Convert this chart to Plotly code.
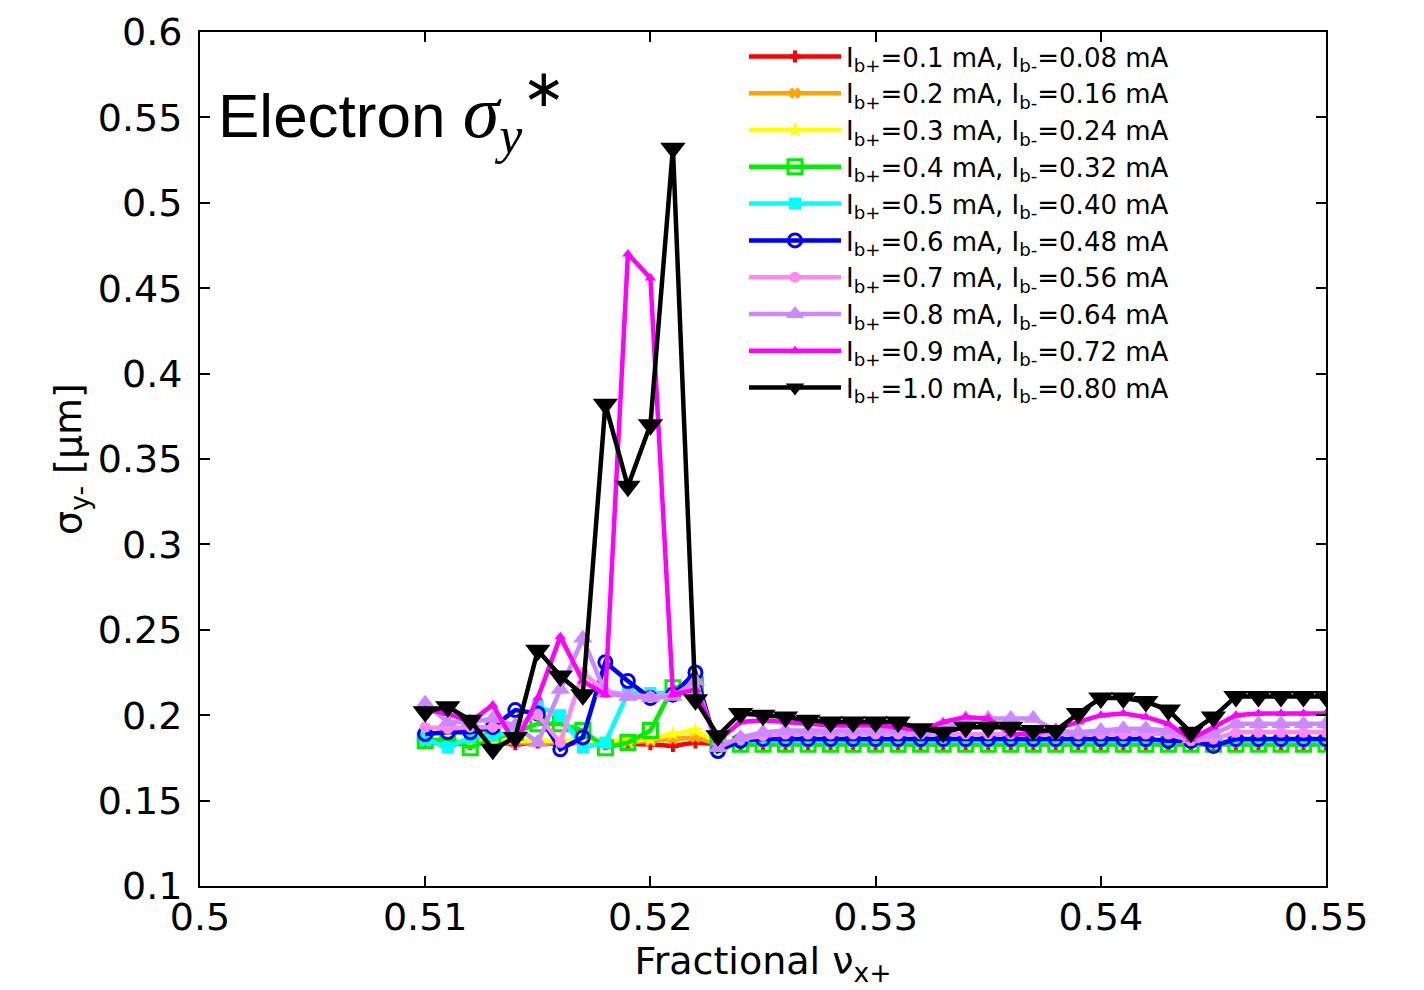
import plotly.graph_objects as go

# ---------------- data ----------------
nu_x = [0.510, 0.511, 0.512, 0.513, 0.514, 0.515, 0.516, 0.517, 0.518, 0.519,
        0.520, 0.521, 0.522, 0.523, 0.524, 0.525, 0.526, 0.527, 0.528, 0.529,
        0.530, 0.531, 0.532, 0.533, 0.534, 0.535, 0.536, 0.537, 0.538, 0.539,
        0.540, 0.541, 0.542, 0.543, 0.544, 0.545, 0.546, 0.547, 0.548, 0.549,
        0.550]

s_01 = [0.184, 0.184, 0.183, 0.184, 0.183, 0.184, 0.183, 0.184, 0.183, 0.183,
        0.183, 0.182, 0.184, 0.183, 0.183, 0.183, 0.183, 0.183, 0.183, 0.183,
        0.183, 0.183, 0.183, 0.183, 0.183, 0.183, 0.183, 0.183, 0.183, 0.183,
        0.183, 0.183, 0.183, 0.183, 0.183, 0.183, 0.183, 0.183, 0.183, 0.183,
        0.183]
s_02 = [0.184, 0.184, 0.184, 0.184, 0.184, 0.184, 0.184, 0.184, 0.184, 0.184,
        0.185, 0.186, 0.187, 0.183, 0.1835, 0.1835, 0.1835, 0.1835, 0.1835, 0.1835,
        0.1835, 0.1835, 0.1835, 0.1835, 0.1835, 0.1835, 0.1835, 0.1835, 0.1835, 0.1835,
        0.1835, 0.1835, 0.1835, 0.1835, 0.1835, 0.1835, 0.1835, 0.1835, 0.1835, 0.1835,
        0.1835]
s_03 = [0.185, 0.185, 0.185, 0.185, 0.185, 0.185, 0.185, 0.185, 0.185, 0.185,
        0.186, 0.189, 0.191, 0.184, 0.184, 0.184, 0.184, 0.184, 0.184, 0.184,
        0.184, 0.184, 0.184, 0.184, 0.184, 0.184, 0.184, 0.184, 0.184, 0.184,
        0.184, 0.184, 0.184, 0.184, 0.184, 0.184, 0.184, 0.184, 0.184, 0.184,
        0.184]
s_04 = [0.185, 0.186, 0.181, 0.186, 0.190, 0.195, 0.195, 0.191, 0.181, 0.184,
        0.191, 0.216, 0.218, 0.183, 0.183, 0.183, 0.183, 0.183, 0.183, 0.183,
        0.183, 0.183, 0.183, 0.183, 0.183, 0.183, 0.183, 0.183, 0.183, 0.183,
        0.183, 0.183, 0.183, 0.183, 0.183, 0.183, 0.183, 0.183, 0.183, 0.183,
        0.183]
s_05 = [0.186, 0.181, 0.187, 0.188, 0.190, 0.205, 0.200, 0.181, 0.184, 0.213,
        0.213, 0.213, 0.218, 0.183, 0.185, 0.185, 0.185, 0.185, 0.185, 0.185,
        0.185, 0.185, 0.185, 0.185, 0.185, 0.185, 0.185, 0.185, 0.185, 0.185,
        0.185, 0.185, 0.185, 0.185, 0.185, 0.184, 0.185, 0.185, 0.185, 0.185,
        0.185]
s_06 = [0.189, 0.190, 0.190, 0.193, 0.203, 0.201, 0.180, 0.187, 0.231, 0.220,
        0.210, 0.212, 0.225, 0.179, 0.185, 0.186, 0.186, 0.186, 0.186, 0.186,
        0.186, 0.186, 0.186, 0.186, 0.186, 0.186, 0.186, 0.186, 0.186, 0.186,
        0.186, 0.186, 0.186, 0.185, 0.185, 0.182, 0.186, 0.186, 0.186, 0.186,
        0.186]
s_07 = [0.193, 0.192, 0.193, 0.193, 0.194, 0.200, 0.184, 0.225, 0.214, 0.212,
        0.211, 0.212, 0.215, 0.183, 0.186, 0.188, 0.189, 0.189, 0.189, 0.189,
        0.189, 0.189, 0.189, 0.189, 0.189, 0.189, 0.189, 0.189, 0.189, 0.189,
        0.189, 0.189, 0.189, 0.189, 0.185, 0.186, 0.190, 0.190, 0.190, 0.190,
        0.190]
s_08 = [0.207, 0.196, 0.196, 0.198, 0.194, 0.184, 0.215, 0.245, 0.213, 0.211,
        0.210, 0.211, 0.220, 0.181, 0.187, 0.190, 0.191, 0.191, 0.191, 0.191,
        0.191, 0.191, 0.190, 0.191, 0.198, 0.198, 0.198, 0.198, 0.191, 0.190,
        0.191, 0.192, 0.192, 0.191, 0.186, 0.189, 0.195, 0.195, 0.195, 0.195,
        0.195]
s_09 = [0.203, 0.201, 0.196, 0.206, 0.183, 0.210, 0.246, 0.220, 0.212, 0.470,
        0.456, 0.212, 0.215, 0.185, 0.196, 0.197, 0.196, 0.195, 0.194, 0.194,
        0.194, 0.193, 0.191, 0.196, 0.199, 0.198, 0.189, 0.189, 0.192, 0.196,
        0.200, 0.201, 0.199, 0.195, 0.186, 0.193, 0.200, 0.201, 0.201, 0.201,
        0.201]
s_10 = [0.202, 0.205, 0.197, 0.180, 0.187, 0.238, 0.223, 0.212, 0.382, 0.334,
        0.370, 0.532, 0.209, 0.188, 0.201, 0.200, 0.199, 0.197, 0.196, 0.196,
        0.196, 0.196, 0.192, 0.190, 0.193, 0.193, 0.193, 0.191, 0.191, 0.201,
        0.210, 0.210, 0.208, 0.203, 0.190, 0.199, 0.211, 0.211, 0.211, 0.211,
        0.211]

series_names = [
    "I<sub>b+</sub>=0.1 mA, I<sub>b-</sub>=0.08 mA",
    "I<sub>b+</sub>=0.2 mA, I<sub>b-</sub>=0.16 mA",
    "I<sub>b+</sub>=0.3 mA, I<sub>b-</sub>=0.24 mA",
    "I<sub>b+</sub>=0.4 mA, I<sub>b-</sub>=0.32 mA",
    "I<sub>b+</sub>=0.5 mA, I<sub>b-</sub>=0.40 mA",
    "I<sub>b+</sub>=0.6 mA, I<sub>b-</sub>=0.48 mA",
    "I<sub>b+</sub>=0.7 mA, I<sub>b-</sub>=0.56 mA",
    "I<sub>b+</sub>=0.8 mA, I<sub>b-</sub>=0.64 mA",
    "I<sub>b+</sub>=0.9 mA, I<sub>b-</sub>=0.72 mA",
    "I<sub>b+</sub>=1.0 mA, I<sub>b-</sub>=0.80 mA",
]
series_values = [s_01, s_02, s_03, s_04, s_05, s_06, s_07, s_08, s_09, s_10]

x_ticks = [0.5, 0.51, 0.52, 0.53, 0.54, 0.55]
x_tick_labels = ["0.5", "0.51", "0.52", "0.53", "0.54", "0.55"]
y_ticks = [0.1, 0.15, 0.2, 0.25, 0.3, 0.35, 0.4, 0.45, 0.5, 0.55, 0.6]
y_tick_labels = ["0.1", "0.15", "0.2", "0.25", "0.3", "0.35", "0.4", "0.45", "0.5", "0.55", "0.6"]

# ---------------- styles ----------------
colors = ["#ff0000", "#ffa500", "#ffff00", "#00ee00", "#00ffff",
          "#0000ff", "#ff88ee", "#cc88ff", "#ff00ff", "#000000"]
symbols = ["cross", "x", "star", "square-open", "square",
           "circle-open", "circle", "triangle-up", "triangle-up", "triangle-down"]
msizes = [10, 10, 12, 14, 12, 13, 11, 17, 10, 22]
mlw = [0, 0, 0, 3, 0, 3, 0, 0, 0, 0]

FONT = "DejaVu Sans, Verdana, sans-serif"
TFONT = "Liberation Sans, Arial, Helvetica, sans-serif"

fig = go.Figure()
for name, vals, c, sym, ms, lw in zip(series_names, series_values, colors, symbols, msizes, mlw):
    fig.add_trace(go.Scatter(
        x=nu_x, y=vals, name=name, mode="lines+markers",
        line=dict(color=c, width=4.5),
        marker=dict(symbol=sym, size=ms, color=c, line=dict(color=c, width=lw)),
    ))

# page has an 8px body margin: figure coords = page coords - 8
W, H = 1416, 982
L, T = 192, 24
PW, PH = 1126, 854
R, B = W - L - PW, H - T - PH
OFF = 8


def px_x(p):
    return (p - OFF - L) / PW


def px_y(p):
    return (T + PH - (p - OFF)) / PH


fig.update_layout(
    width=W, height=H,
    margin=dict(l=L, r=R, t=T, b=B, pad=0, autoexpand=False),
    paper_bgcolor="white", plot_bgcolor="white",
    font=dict(family=FONT, color="black"),
    showlegend=True,
    legend=dict(
        x=px_x(744), y=px_y(33), xanchor="left", yanchor="top",
        bgcolor="rgba(255,255,255,0)", borderwidth=0,
        font=dict(size=26, family=FONT, color="black"),
        itemwidth=92, tracegroupgap=0,
    ),
    xaxis=dict(
        range=[0.5, 0.55], tickvals=x_ticks, ticktext=x_tick_labels,
        showgrid=False, zeroline=False, automargin=False,
        showline=True, linecolor="black", linewidth=2, mirror="allticks",
        ticks="inside", ticklen=10, tickwidth=1.5, tickcolor="black",
        tickfont=dict(size=38, family=FONT), ticklabelstandoff=-4,
        title=dict(text="Fractional ν<sub>x+</sub>", font=dict(size=38, family=FONT), standoff=0),
    ),
    yaxis=dict(
        range=[0.1, 0.6], tickvals=y_ticks, ticktext=y_tick_labels,
        showgrid=False, zeroline=False, automargin=False,
        showline=True, linecolor="black", linewidth=2, mirror="allticks",
        ticks="inside", ticklen=10, tickwidth=1.5, tickcolor="black",
        tickfont=dict(size=38, family=FONT), ticklabelstandoff=8,
        title=dict(text="σ<sub>y-</sub> [μm]", font=dict(size=38, family=FONT), standoff=4),
    ),
)

fig.add_annotation(
    xref="paper", yref="paper", x=px_x(216), y=px_y(112),
    xanchor="left", yanchor="middle", showarrow=False,
    text=("Electron <span style='font-family:Liberation Serif;font-size:74px'>"
          "<i>σ<sub>y</sub></i><sup>∗</sup></span>"),
    font=dict(size=62, family=TFONT, color="black"),
)

fig.write_html("out.html")
